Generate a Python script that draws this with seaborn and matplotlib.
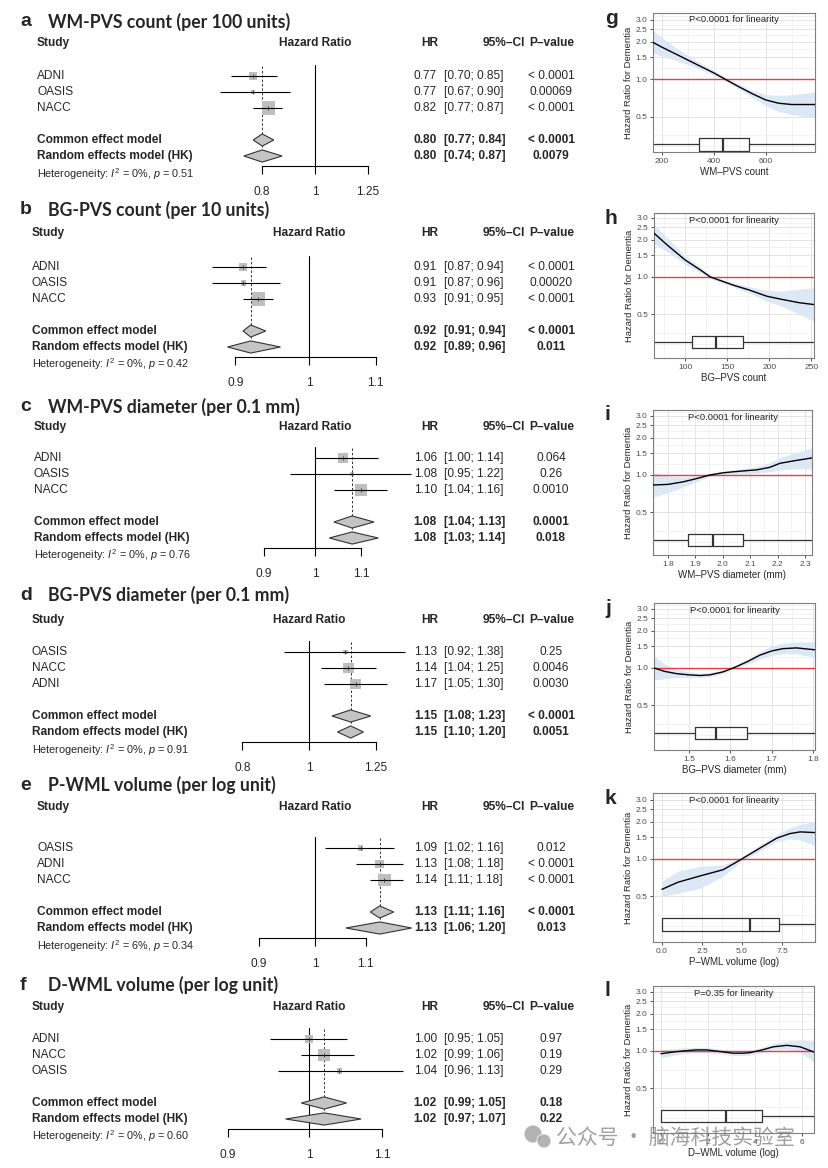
import numpy as np
import pandas as pd
import matplotlib
matplotlib.use("Agg")
import matplotlib.pyplot as plt
import seaborn as sns
from matplotlib.patches import Ellipse
from matplotlib.transforms import blended_transform_factory
from matplotlib.ticker import NullLocator, NullFormatter, FixedLocator

# ---------------- forest plots (a-f) ----------------
letters = ["a", "b", "c", "d", "e", "f"]
titles = ["WM-PVS count (per 100 units)", "BG-PVS count (per 10 units)",
          "WM-PVS diameter (per 0.1 mm)", "BG-PVS diameter (per 0.1 mm)",
          "P-WML volume (per log unit)", "D-WML volume (per log unit)"]
studies = [["ADNI", "OASIS", "NACC"], ["ADNI", "OASIS", "NACC"], ["ADNI", "OASIS", "NACC"],
           ["OASIS", "NACC", "ADNI"], ["OASIS", "ADNI", "NACC"], ["ADNI", "NACC", "OASIS"]]
hr = [[0.77, 0.77, 0.82], [0.91, 0.91, 0.93], [1.06, 1.08, 1.10],
      [1.13, 1.14, 1.17], [1.09, 1.13, 1.14], [1.00, 1.02, 1.04]]
ci_lo = [[0.70, 0.67, 0.77], [0.87, 0.87, 0.91], [1.00, 0.95, 1.04],
         [0.92, 1.04, 1.05], [1.02, 1.08, 1.11], [0.95, 0.99, 0.96]]
ci_hi = [[0.85, 0.90, 0.87], [0.94, 0.96, 0.95], [1.14, 1.22, 1.16],
         [1.38, 1.25, 1.30], [1.16, 1.18, 1.18], [1.05, 1.06, 1.13]]
pvals = [["< 0.0001", "0.00069", "< 0.0001"], ["< 0.0001", "0.00020", "< 0.0001"],
         ["0.064", "0.26", "0.0010"], ["0.25", "0.0046", "0.0030"],
         ["0.012", "< 0.0001", "< 0.0001"], ["0.97", "0.19", "0.29"]]
weights = [[25, 8, 67], [22, 10, 68], [38, 8, 54], [9, 46, 45], [10, 30, 60], [30, 60, 10]]
common = [(0.80, 0.77, 0.84, "< 0.0001"), (0.92, 0.91, 0.94, "< 0.0001"),
          (1.08, 1.04, 1.13, "0.0001"), (1.15, 1.08, 1.23, "< 0.0001"),
          (1.13, 1.11, 1.16, "< 0.0001"), (1.02, 0.99, 1.05, "0.18")]
random_fx = [(0.80, 0.74, 0.87, "0.0079"), (0.92, 0.89, 0.96, "0.011"),
             (1.08, 1.03, 1.14, "0.018"), (1.15, 1.10, 1.20, "0.0051"),
             (1.13, 1.06, 1.20, "0.013"), (1.02, 0.97, 1.07, "0.22")]
het_i2 = ["0%", "0%", "0%", "0%", "6%", "0%"]
het_p = ["0.51", "0.42", "0.76", "0.91", "0.34", "0.60"]
xticks = [[0.8, 1, 1.25], [0.9, 1, 1.1], [0.9, 1, 1.1], [0.8, 1, 1.25], [0.9, 1, 1.1], [0.9, 1, 1.1]]

# layout: x of HR=1 (px), px per log unit, first row y, title y, header y, study x
forest_layout = [(315, 236.5, 76, 22, 43, 37), (309, 699, 267, 210, 233, 32),
                 (315, 483, 458, 407, 427, 34), (309, 298.5, 652, 595, 620, 32),
                 (315, 530, 848, 785, 807, 37), (309, 770, 1039, 985, 1007, 32)]

# ---------------- spline plots (g-l) ----------------
sp_letters = ["g", "h", "i", "j", "k", "l"]
sp_xlabels = ["WM–PVS count", "BG–PVS count", "WM–PVS diameter (mm)",
              "BG–PVS diameter (mm)", "P–WML volume (log)", "D–WML volume (log)"]
sp_notes = ["P<0.0001 for linearity"] * 5 + ["P=0.35 for linearity"]

g_x = [165, 200, 250, 300, 350, 400, 450, 500, 550, 600, 650, 700, 750, 790]
g_y = [1.97, 1.8, 1.6, 1.42, 1.26, 1.12, 0.98, 0.86, 0.76, 0.68, 0.64, 0.625, 0.625, 0.625]
g_lo = [1.62, 1.52, 1.42, 1.31, 1.19, 1.07, 0.95, 0.82, 0.71, 0.61, 0.55, 0.52, 0.50, 0.49]
g_hi = [2.45, 2.15, 1.8, 1.55, 1.34, 1.17, 1.02, 0.9, 0.81, 0.75, 0.74, 0.75, 0.77, 0.79]

h_x = [63, 79, 100, 118, 130, 157, 175, 197, 215, 236, 253]
h_y = [2.25, 1.8, 1.37, 1.14, 1.0, 0.86, 0.79, 0.70, 0.66, 0.62, 0.60]
h_lo = [1.85, 1.6, 1.27, 1.08, 0.97, 0.83, 0.75, 0.64, 0.58, 0.50, 0.44]
h_hi = [2.65, 2.05, 1.48, 1.2, 1.03, 0.9, 0.84, 0.78, 0.77, 0.80, 0.82]

i_x = [1.745, 1.8, 1.855, 1.9, 1.953, 2.0, 2.037, 2.124, 2.17, 2.208, 2.26, 2.325]
i_y = [0.83, 0.84, 0.88, 0.93, 1.0, 1.04, 1.06, 1.10, 1.15, 1.24, 1.3, 1.37]
i_lo = [0.66, 0.72, 0.8, 0.88, 0.97, 1.01, 1.02, 1.03, 1.06, 1.1, 1.12, 1.12]
i_hi = [1.05, 0.98, 0.96, 0.98, 1.03, 1.07, 1.1, 1.17, 1.25, 1.38, 1.5, 1.65]

j_x = [1.415, 1.44, 1.47, 1.5, 1.526, 1.55, 1.582, 1.607, 1.64, 1.672, 1.7, 1.727, 1.76, 1.805]
j_y = [1.0, 0.94, 0.9, 0.88, 0.87, 0.88, 0.93, 1.0, 1.12, 1.27, 1.37, 1.43, 1.45, 1.40]
j_lo = [0.8, 0.82, 0.84, 0.84, 0.84, 0.85, 0.9, 0.97, 1.07, 1.18, 1.26, 1.3, 1.3, 1.22]
j_hi = [1.25, 1.08, 0.97, 0.93, 0.91, 0.92, 0.96, 1.03, 1.17, 1.36, 1.5, 1.58, 1.62, 1.62]

k_x = [0, 1, 2.375, 3.83, 4.875, 5.92, 7.17, 8, 8.63, 9.56]
k_y = [0.57, 0.65, 0.73, 0.82, 0.98, 1.18, 1.47, 1.6, 1.65, 1.63]
k_lo = [0.5, 0.53, 0.58, 0.73, 0.94, 1.12, 1.38, 1.45, 1.42, 1.28]
k_hi = [0.66, 0.8, 0.87, 0.9, 1.02, 1.25, 1.57, 1.78, 1.9, 2.0]

l_x = [0, 0.5, 0.94, 1.5, 1.94, 2.5, 3.06, 3.5, 3.79, 4.3, 4.77, 5.35, 5.91, 6.5]
l_y = [0.95, 0.98, 1.0, 1.02, 1.02, 0.99, 0.96, 0.96, 0.97, 1.02, 1.08, 1.11, 1.08, 0.98]
l_lo = [0.88, 0.92, 0.95, 0.97, 0.97, 0.95, 0.92, 0.92, 0.93, 0.97, 1.02, 1.03, 0.97, 0.82]
l_hi = [1.03, 1.04, 1.06, 1.07, 1.07, 1.04, 1.0, 1.0, 1.02, 1.07, 1.15, 1.2, 1.22, 1.2]

# box summaries: whislo, q1, median, q3, whishi
boxes = [(160, 344, 436, 534, 800), (60, 108, 137, 169, 260), (1.74, 1.873, 1.964, 2.073, 2.33),
         (1.41, 1.515, 1.565, 1.64, 1.81), (0, 0, 5.5, 7.3, 9.6), (0, 0, 2.77, 4.3, 6.6)]
sp_data = [(g_x, g_y, g_lo, g_hi), (h_x, h_y, h_lo, h_hi), (i_x, i_y, i_lo, i_hi),
           (j_x, j_y, j_lo, j_hi), (k_x, k_y, k_lo, k_hi), (l_x, l_y, l_lo, l_hi)]
sp_xlim = [(165, 790), (63, 253), (1.745, 2.325), (1.415, 1.805), (-0.56, 9.56), (-0.34, 6.5)]
sp_xmajor = [[200, 400, 600], [100, 150, 200, 250], [1.8, 1.9, 2.0, 2.1, 2.2, 2.3],
             [1.5, 1.6, 1.7, 1.8], [0, 2.5, 5, 7.5], [0, 2, 4, 6]]
sp_xlabs = [["200", "400", "600"], ["100", "150", "200", "250"],
            ["1.8", "1.9", "2.0", "2.1", "2.2", "2.3"], ["1.5", "1.6", "1.7", "1.8"],
            ["0.0", "2.5", "5.0", "7.5"], ["0", "2", "4", "6"]]
sp_xminor = [[300, 500, 700], [75, 125, 175, 225], [1.75, 1.85, 1.95, 2.05, 2.15, 2.25],
             [1.45, 1.55, 1.65, 1.75], [1.25, 3.75, 6.25, 8.75], [1, 3, 5]]
hr_ticks = [0.5, 1.0, 1.5, 2.0, 2.5, 3.0]
hr_minor = [0.29, 0.354, 0.707, 1.22, 1.73, 2.24, 2.74, 3.2]
# panel box in px: left, right, top, bottom ; y limits
sp_layout = [(653, 815, 13, 152, 0.26, 3.39), (654, 814, 213, 358, 0.223, 3.27),
             (653, 812, 410, 555, 0.227, 3.33), (654, 815, 603, 750, 0.219, 3.33),
             (653, 815, 793, 942, 0.215, 3.39), (653, 814, 986, 1133, 0.219, 3.33)]

sns.set_theme(style="white")
plt.rcParams['font.family'] = ['Liberation Sans', 'DejaVu Sans']
plt.rcParams['mathtext.fontset'] = 'custom'
plt.rcParams['mathtext.rm'] = 'Liberation Sans'
plt.rcParams['mathtext.it'] = 'Liberation Sans:italic'
plt.rcParams['mathtext.bf'] = 'Liberation Sans:bold'

W, H = 829, 1168
fig = plt.figure(figsize=(W / 100, H / 100), dpi=100)


def fx(px):
    return px / W


def fy(py):
    return 1 - py / H


ROW = 16.0
FS = 8.6

for i in range(6):
    p1, s, row0, ty, hy, sx = forest_layout[i]
    top, bot = row0 - 5 * ROW, row0 + 8 * ROW
    ax = fig.add_axes([0, fy(bot), fx(600), (bot - top) / H])
    ax.patch.set_alpha(0)
    ax.set_xscale('log')
    ax.set_xlim(np.exp(-p1 / s), np.exp((600 - p1) / s))
    ax.set_ylim(8, -5)
    tr = blended_transform_factory(fig.transFigure, ax.transData)
    rows = [0, 1, 2]

    # studies
    sizes = [(1.6 * np.sqrt(w) * 0.72) ** 2 for w in weights[i]]
    ax.scatter(hr[i], rows, marker='s', s=sizes, color='#bebebe', linewidths=0, zorder=2)
    ax.hlines(rows, ci_lo[i], ci_hi[i], color='black', lw=0.8, zorder=3)
    ax.scatter(hr[i], rows, marker='|', s=10, color='#333333', linewidths=0.6, zorder=4)

    # reference and summary lines
    ax.plot([1, 1], [-0.7, 5.6], color='black', lw=0.8, zorder=1)
    ax.plot([common[i][0]] * 2, [-0.6, 4.5], color='#333333', lw=0.7, ls=(0, (2.5, 2)), zorder=1)
    for y, (est, lo, hi, p) in zip([4, 5], [common[i], random_fx[i]]):
        ax.fill([lo, est, hi, est], [y, y - 0.38, y, y + 0.38], facecolor='#c4c4c4',
                edgecolor='#333333', lw=0.8, zorder=3)

    # axis
    for sp in ['top', 'right', 'left']:
        ax.spines[sp].set_visible(False)
    ax.spines['bottom'].set_position(('data', 5.6))
    ax.spines['bottom'].set_bounds(xticks[i][0], xticks[i][-1])
    ax.spines['bottom'].set_color('black')
    ax.spines['bottom'].set_linewidth(0.8)
    ax.xaxis.set_major_locator(FixedLocator(xticks[i]))
    ax.set_xticklabels([f"{t:g}" for t in xticks[i]])
    ax.xaxis.set_minor_locator(NullLocator())
    ax.xaxis.set_minor_formatter(NullFormatter())
    ax.tick_params(axis='x', bottom=True, direction='out', length=6, width=0.8,
                   color='black', pad=9, labelsize=FS)
    ax.set_yticks([])
    ax.grid(False)

    # titles and columns
    ty_r = (ty - row0) / ROW
    hy_r = (hy - row0) / ROW
    ax.text(fx(20), ty_r, letters[i], transform=tr, fontsize=14, fontweight='bold',
            ha='left', va='center')
    ax.text(fx(48), ty_r, titles[i], transform=tr, fontsize=12.7, fontweight='bold',
            ha='left', va='center', family=['Lato', 'DejaVu Sans'])
    ax.text(fx(sx), hy_r, "Study", transform=tr, fontsize=FS, fontweight='bold', va='center')
    ax.text(1, hy_r, "Hazard Ratio", fontsize=FS, fontweight='bold', ha='center', va='center')
    ax.text(fx(430), hy_r, "HR", transform=tr, fontsize=FS, fontweight='bold', ha='center', va='center')
    ax.text(fx(525), hy_r, "95%–CI", transform=tr, fontsize=FS, fontweight='bold', ha='right', va='center')
    ax.text(fx(552), hy_r, "P–value", transform=tr, fontsize=FS, fontweight='bold', ha='center', va='center')

    for y, name, h, lo, hi, p in zip(rows, studies[i], hr[i], ci_lo[i], ci_hi[i], pvals[i]):
        ax.text(fx(sx), y, name, transform=tr, fontsize=FS, va='center')
        ax.text(fx(437), y, f"{h:.2f}", transform=tr, fontsize=FS, ha='right', va='center')
        ax.text(fx(444), y, f"[{lo:.2f}; {hi:.2f}]", transform=tr, fontsize=FS, ha='left', va='center')
        ax.text(fx(551), y, p, transform=tr, fontsize=FS, ha='center', va='center')
    for y, name, (est, lo, hi, p) in zip([4, 5], ["Common effect model", "Random effects model (HK)"],
                                         [common[i], random_fx[i]]):
        ax.text(fx(sx), y, name, transform=tr, fontsize=FS, fontweight='bold', va='center')
        ax.text(fx(437), y, f"{est:.2f}", transform=tr, fontsize=FS, fontweight='bold', ha='right', va='center')
        ax.text(fx(444), y, f"[{lo:.2f}; {hi:.2f}]", transform=tr, fontsize=FS, fontweight='bold',
                ha='left', va='center')
        ax.text(fx(551), y, p, transform=tr, fontsize=FS, fontweight='bold', ha='center', va='center')
    ax.text(fx(sx), 6.1, "Heterogeneity: $I^2$ = " + het_i2[i] + ", $p$ = " + het_p[i],
            transform=tr, fontsize=7.8, va='center')

# ---------------- spline panels ----------------
for i in range(6):
    left, right, top, bot, ylo, yhi = sp_layout[i]
    ax = fig.add_axes([fx(left), fy(bot), (right - left) / W, (bot - top) / H])
    x, y, lo, hi = sp_data[i]
    ax.set_yscale('log')
    ax.set_xlim(*sp_xlim[i])
    ax.set_ylim(ylo, yhi)
    ax.set_axisbelow(True)
    ax.fill_between(x, lo, hi, color='#dde8f6', lw=0, zorder=1)
    df = pd.DataFrame({'x': x, 'y': y})
    sns.lineplot(data=df, x='x', y='y', ax=ax, color='black', lw=1.0, zorder=3)
    ax.axhline(1, color='#f03c3c', lw=1.0, zorder=2)
    wlo, q1, med, q3, whi = boxes[i]
    ax.bxp([dict(med=med, q1=q1, q3=q3, whislo=wlo, whishi=whi, fliers=[])],
           positions=[0.302], widths=0.072, orientation='horizontal', showfliers=False,
           showcaps=False, manage_ticks=False,
           boxprops=dict(color='#333333', lw=0.9), medianprops=dict(color='#333333', lw=1.6),
           whiskerprops=dict(color='#333333', lw=0.9))

    ax.yaxis.set_major_locator(FixedLocator(hr_ticks))
    ax.set_yticklabels([f"{t:.1f}" for t in hr_ticks])
    ax.yaxis.set_minor_locator(FixedLocator(hr_minor))
    ax.yaxis.set_minor_formatter(NullFormatter())
    ax.xaxis.set_major_locator(FixedLocator(sp_xmajor[i]))
    ax.set_xticklabels(sp_xlabs[i])
    ax.xaxis.set_minor_locator(FixedLocator(sp_xminor[i]))
    ax.grid(True, which='major', color='#e3e3e3', lw=0.7)
    ax.grid(True, which='minor', color='#efefef', lw=0.5)
    ax.tick_params(axis='both', which='major', bottom=True, left=True, length=2.5, width=0.6,
                   color='#333333', labelsize=6, labelcolor='#4d4d4d', pad=1.5)
    ax.tick_params(axis='both', which='minor', length=0)
    for sp in ax.spines.values():
        sp.set_color('#7f7f7f')
        sp.set_linewidth(0.8)
    ax.set_xlabel(sp_xlabels[i], fontsize=7, labelpad=2)
    ax.set_ylabel("Hazard Ratio for Dementia", fontsize=6.8, labelpad=2)
    ax.text(0.5, 0.95, sp_notes[i], transform=ax.transAxes, fontsize=6.8, ha='center', va='center')
    fig.text(fx(605), fy(top + 5), sp_letters[i], fontsize=15, fontweight='bold', ha='left', va='center')

# watermark overlay
for cx, cy, r in [(533, 1134, 9), (544, 1141, 7)]:
    fig.patches.append(Ellipse((fx(cx), fy(cy)), 2 * r / W, 2 * r / H, transform=fig.transFigure,
                               facecolor='#9a9a9a', edgecolor='white', lw=0.8, alpha=0.75))
fig.text(fx(556), fy(1138), "公众号 · 脑海科技实验室", fontsize=15, color='#808080', alpha=0.75,
         family=['Noto Sans CJK SC', 'DejaVu Sans'], va='center')

fig.savefig("out.png", dpi=100)
